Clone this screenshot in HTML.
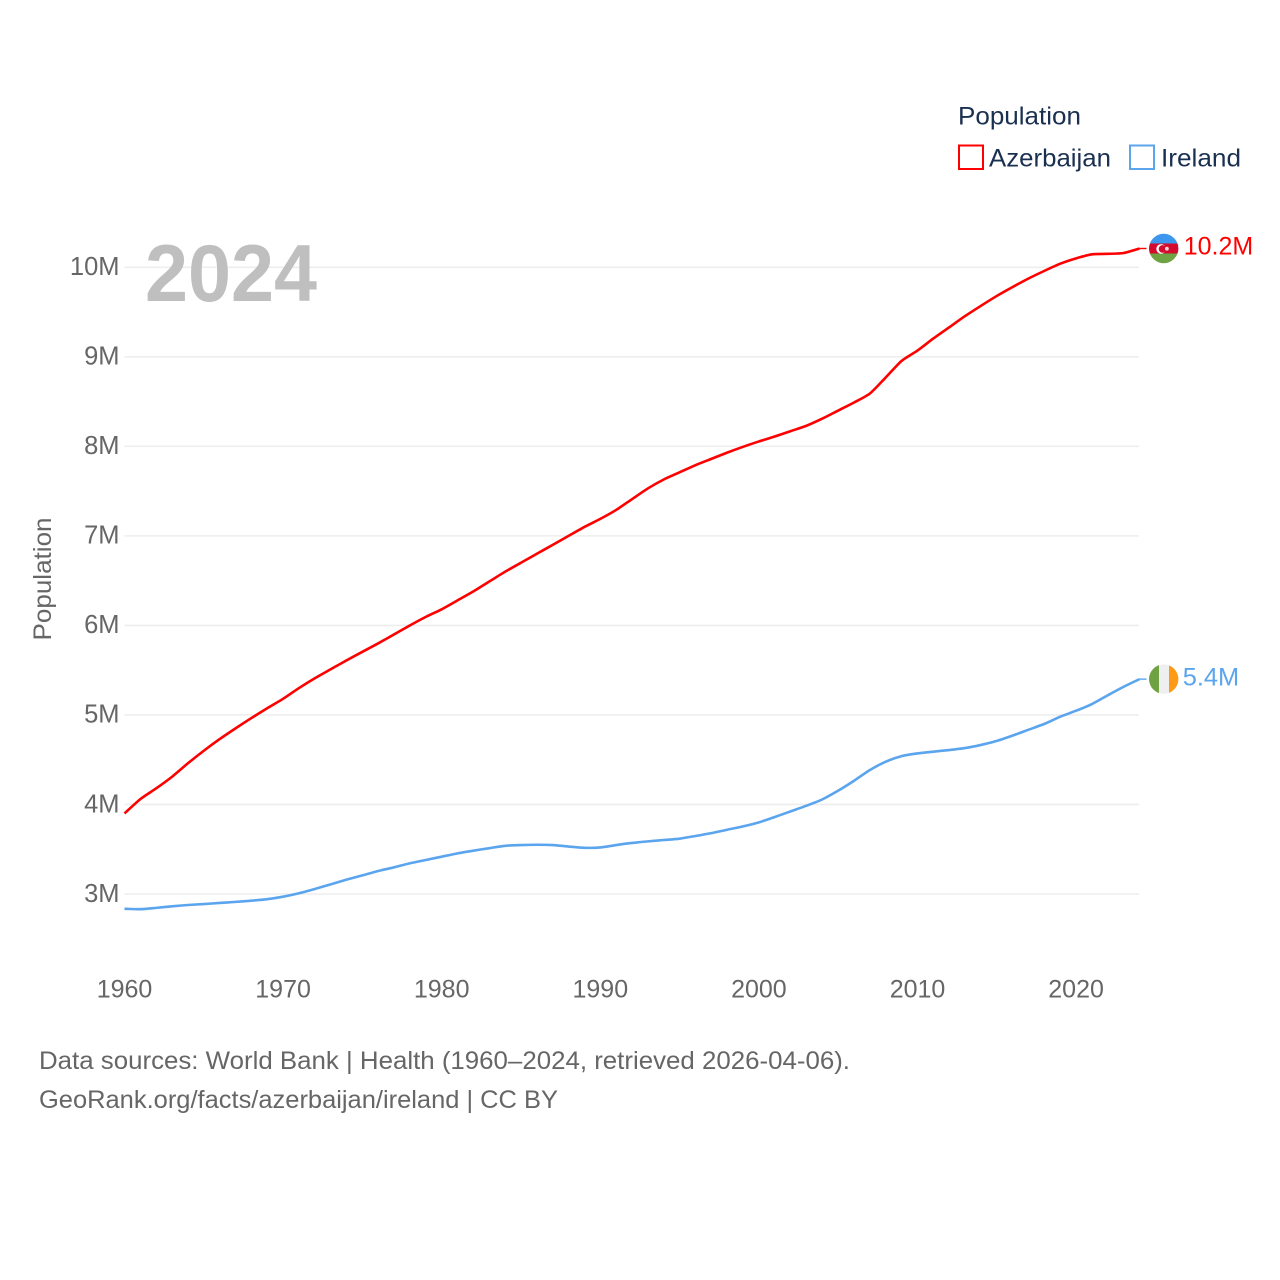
<!DOCTYPE html>
<html lang="en">
<head>
<meta charset="utf-8">
<title>Population: Azerbaijan vs Ireland</title>
<style>
html,body{margin:0;padding:0;background:#fff;}
svg{display:block;font-family:"Liberation Sans",sans-serif;}
</style>
</head>
<body>
<svg id="chart" xmlns="http://www.w3.org/2000/svg" width="1280" height="1280" viewBox="0 0 1280 1280">
  <defs>
    <clipPath id="flag-clip"><circle cx="0" cy="0" r="14.7"/></clipPath>
  </defs>
  <rect x="0" y="0" width="1280" height="1280" fill="#ffffff"/>

  <g id="grid"></g>
  <text x="145" y="301" font-size="81" font-weight="700" fill="#bfbfbf" textLength="172" lengthAdjust="spacingAndGlyphs">2024</text>
  <g id="y-ticks"></g>
  <g id="x-ticks"></g>
  <text transform="translate(51,579) rotate(-90)" text-anchor="middle" font-size="25" fill="#666666" textLength="123" lengthAdjust="spacingAndGlyphs">Population</text>

  <g id="series"></g>

  <g>
    <text x="958" y="124.5" font-size="25" fill="#1a3050" textLength="123" lengthAdjust="spacingAndGlyphs">Population</text>
    <g>
      <rect x="959" y="145.5" width="24" height="23.5" fill="none" stroke="#ff0000" stroke-width="2"/>
      <text x="989" y="166.5" font-size="25" fill="#1a3050" textLength="122" lengthAdjust="spacingAndGlyphs">Azerbaijan</text>
    </g>
    <g>
      <rect x="1130" y="145.5" width="24" height="23.5" fill="none" stroke="#5ba4ee" stroke-width="2"/>
      <text x="1161" y="166.5" font-size="25" fill="#1a3050" textLength="80" lengthAdjust="spacingAndGlyphs">Ireland</text>
    </g>
  </g>

  <g id="end-az">
    <g clip-path="url(#flag-clip)">
      <rect x="-15" y="-15" width="30" height="10" fill="#3d97ef"/>
      <rect x="-15" y="-5" width="30" height="10" fill="#d40a2e"/>
      <rect x="-15" y="5" width="30" height="10" fill="#6fa243"/>
      <circle cx="-2.6" cy="0.4" r="4.8" fill="#ffffff"/>
      <circle cx="-1.2" cy="0.4" r="3.8" fill="#d40a2e"/>
      <circle cx="3.2" cy="0.2" r="1.9" fill="#f4d6da"/>
    </g>
    <text id="label-az" x="20" y="6" font-size="25" fill="#ff0000" textLength="69.5" lengthAdjust="spacingAndGlyphs"></text>
  </g>
  <g id="end-ie">
    <g clip-path="url(#flag-clip)">
      <rect x="-15" y="-15" width="10.3" height="30" fill="#6fa243"/>
      <rect x="-4.7" y="-15" width="10" height="30" fill="#efefef"/>
      <rect x="5.3" y="-15" width="10" height="30" fill="#ff9a17"/>
    </g>
    <text id="label-ie" x="19" y="6.5" font-size="25" fill="#5ba4ee" textLength="56.5" lengthAdjust="spacingAndGlyphs"></text>
  </g>

  <g fill="#666666" font-size="25">
    <text x="39" y="1069" textLength="811" lengthAdjust="spacingAndGlyphs">Data sources: World Bank | Health (1960–2024, retrieved 2026-04-06).</text>
    <text x="39" y="1108" textLength="519" lengthAdjust="spacingAndGlyphs">GeoRank.org/facts/azerbaijan/ireland | CC BY</text>
  </g>
</svg>

<script>
const firstYear = 1960;
const yTickValues = [3, 4, 5, 6, 7, 8, 9, 10];
const xTickYears = [1960, 1970, 1980, 1990, 2000, 2010, 2020];
const azerbaijan = [
  3.90, 4.06, 4.18, 4.31, 4.46, 4.60, 4.73, 4.85, 4.965, 5.075,
  5.18, 5.30, 5.41, 5.51, 5.61, 5.705, 5.80, 5.90, 6.00, 6.095,
  6.18, 6.28, 6.38, 6.49, 6.60, 6.70, 6.80, 6.90, 7.00, 7.10,
  7.19, 7.29, 7.41, 7.53, 7.63, 7.71, 7.79, 7.86, 7.93, 7.995,
  8.055, 8.11, 8.17, 8.23, 8.31, 8.40, 8.49, 8.59, 8.77, 8.955,
  9.07, 9.205, 9.33, 9.455, 9.57, 9.68, 9.78, 9.875, 9.96, 10.04,
  10.10, 10.145, 10.15, 10.16, 10.21
];
const ireland = [
  2.835, 2.83, 2.845, 2.863, 2.877, 2.888, 2.90, 2.912, 2.925, 2.942,
  2.97, 3.008, 3.056, 3.108, 3.16, 3.208, 3.257, 3.298, 3.343, 3.38,
  3.417, 3.454, 3.484, 3.512, 3.538, 3.547, 3.55, 3.547, 3.53, 3.516,
  3.52, 3.547, 3.57, 3.588, 3.603, 3.618, 3.648, 3.68, 3.718, 3.755,
  3.80, 3.86, 3.923, 3.986, 4.057, 4.154, 4.265, 4.385, 4.478, 4.54,
  4.57, 4.59, 4.608, 4.63, 4.665, 4.71, 4.77, 4.835, 4.90, 4.98,
  5.047, 5.122, 5.22, 5.315, 5.40
];

const NS = 'http://www.w3.org/2000/svg';
function xScale(year) { return 124.5 + (year - 1960) * 15.86; }
function yScale(v) { return 894 - (v - 3) * 89.53; }
function make(tag, attrs, parent) {
  const el = document.createElementNS(NS, tag);
  for (const k in attrs) el.setAttribute(k, attrs[k]);
  parent.appendChild(el);
  return el;
}
function smoothPath(points) {
  let d = 'M' + points[0][0].toFixed(2) + ' ' + points[0][1].toFixed(2);
  for (let i = 0; i < points.length - 1; i++) {
    const p0 = points[Math.max(i - 1, 0)];
    const p1 = points[i];
    const p2 = points[i + 1];
    const p3 = points[Math.min(i + 2, points.length - 1)];
    const c1x = p1[0] + (p2[0] - p0[0]) * 0.12;
    const c1y = p1[1] + (p2[1] - p0[1]) * 0.12;
    const c2x = p2[0] - (p3[0] - p1[0]) * 0.12;
    const c2y = p2[1] - (p3[1] - p1[1]) * 0.12;
    d += 'C' + c1x.toFixed(2) + ' ' + c1y.toFixed(2) + ' ' + c2x.toFixed(2) + ' ' + c2y.toFixed(2) + ' ' + p2[0].toFixed(2) + ' ' + p2[1].toFixed(2);
  }
  return d;
}

const gridGroup = document.getElementById('grid');
const yGroup = document.getElementById('y-ticks');
yTickValues.forEach(function (v) {
  const line = make('line', { x1: 124.5, x2: 1139, y1: yScale(v), y2: yScale(v), stroke: '#eeeeee', 'stroke-width': 1.6 }, gridGroup);
  
  
  const label = make('text', { x: 119.5, y: yScale(v) + 7.8, 'text-anchor': 'end', 'font-size': 25.5, fill: '#666666' }, yGroup);
  
  
  label.textContent = v + 'M';
});

const xGroup = document.getElementById('x-ticks');
xTickYears.forEach(function (year) {
  const label = make('text', { x: xScale(year), y: 997.5, 'text-anchor': 'middle', 'font-size': 25, fill: '#666666' }, xGroup);
  
  
  label.textContent = String(year);
});

function drawSeries(values, color, name, markerId, labelId) {
  const group = document.getElementById('series');
  const pts = values.map(function (v, i) {
    return [xScale(firstYear + i), yScale(v)];
  });
  const line = make('path', { d: smoothPath(pts), fill: 'none', stroke: color, 'stroke-width': 2.6, 'stroke-linejoin': 'round' }, group);
  
  

  const last = values[values.length - 1];
  const lastX = xScale(firstYear + values.length - 1);
  const lastY = yScale(last);
  const stub = make('line', { x1: lastX, x2: lastX + 7, y1: lastY, y2: lastY, stroke: color, 'stroke-width': 1.4 }, group);
  
  
  document.getElementById(markerId).setAttribute('transform', 'translate(1163.7,' + lastY.toFixed(2) + ')');
  document.getElementById(labelId).textContent = last.toFixed(1) + 'M';
}
drawSeries(ireland, '#5ba4ee', 'ireland', 'end-ie', 'label-ie');
drawSeries(azerbaijan, '#ff0000', 'azerbaijan', 'end-az', 'label-az');
</script>
</body>
</html>
